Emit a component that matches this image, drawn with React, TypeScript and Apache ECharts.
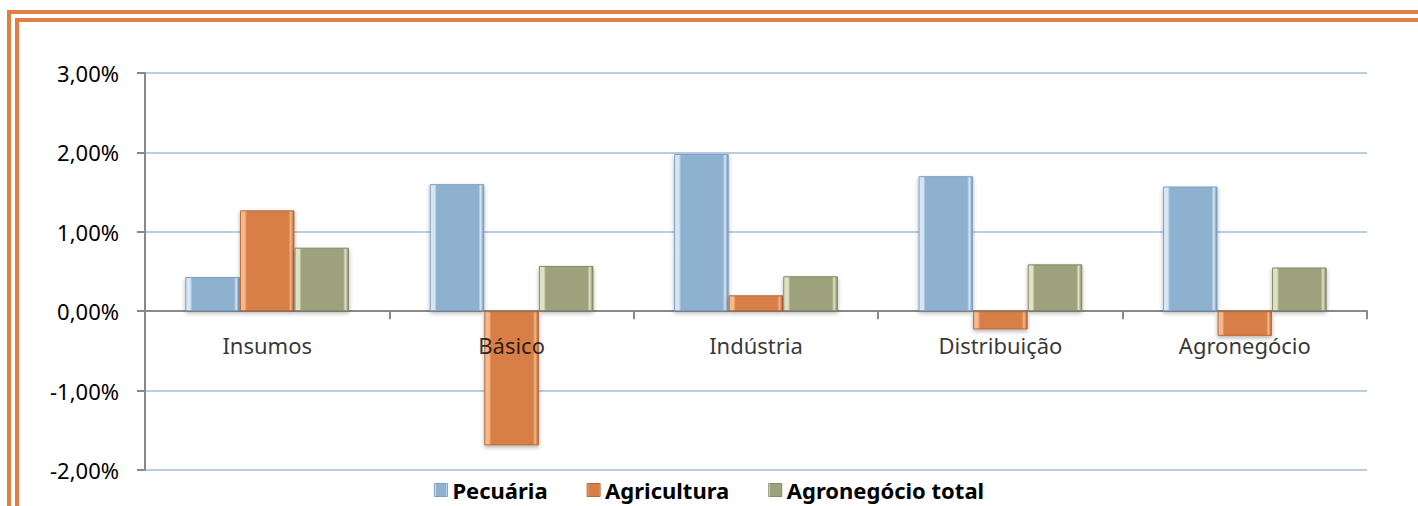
import React, { useEffect, useRef } from "react";
import * as echarts from "echarts";

const categories = ["Insumos", "Básico", "Indústria", "Distribuição", "Agronegócio"];
const pecuaria = [0.43, 1.6, 1.98, 1.7, 1.57];
const agricultura = [1.27, -1.69, 0.2, -0.23, -0.31];
const agronegocioTotal = [0.8, 0.57, 0.44, 0.59, 0.55];
const seriesNames = ["Pecuária", "Agricultura", "Agronegócio total"];
const yTicks = { min: -2, max: 3, interval: 1 };

const palettes = [
  { light: "#d6e6f5", main: "#8eb1d0", dark: "#6f8fae", border: "#7f9fbf" },
  { light: "#f7b88a", main: "#d87f47", dark: "#b3622f", border: "#b8693a" },
  { light: "#dfe3c4", main: "#9da27c", dark: "#7f8560", border: "#84896a" },
];

function grad(p: { light: string; main: string; dark: string }) {
  return new echarts.graphic.LinearGradient(0, 0, 1, 0, [
    { offset: 0, color: p.light },
    { offset: 0.08, color: p.light },
    { offset: 0.12, color: p.main },
    { offset: 0.9, color: p.main },
    { offset: 0.94, color: p.light },
    { offset: 1, color: p.dark },
  ]);
}

export default function App() {
  const ref = useRef<HTMLDivElement>(null);
  useEffect(() => {
    if (!ref.current) return;
    const chart = echarts.init(ref.current, null, { renderer: "svg" });
    const font = "'Noto Sans', sans-serif";
    const data = [pecuaria, agricultura, agronegocioTotal];
    chart.setOption({
      animation: false,
      backgroundColor: "#ffffff",
      textStyle: { fontFamily: font },
      grid: { left: 145, right: 51, top: 73, bottom: 36, containLabel: false, outerBoundsMode: "none" },
      graphic: [
        {
          type: "rect",
          shape: { x: 9, y: 12, width: 1500, height: 600 },
          style: { fill: "none", stroke: "#e07f45", lineWidth: 4 },
          silent: true,
        },
        {
          type: "rect",
          shape: { x: 17, y: 20, width: 1500, height: 600 },
          style: { fill: "none", stroke: "#e07f45", lineWidth: 4 },
          silent: true,
        },
      ],
      legend: {
        data: seriesNames.map((n, i) => ({
          name: n,
          icon: "rect",
          itemStyle: { color: grad(palettes[i]), borderColor: palettes[i].border, borderWidth: 1 },
        })),
        top: 477,
        left: "center",
        itemWidth: 13,
        itemHeight: 13,
        itemGap: 39,
        padding: [2, 5, 0, 5],
        textStyle: { fontFamily: font, fontSize: 22, fontWeight: "bold", color: "#000" },
      },
      xAxis: {
        type: "category",
        data: categories,
        axisLine: { onZero: true, lineStyle: { color: "#898989", width: 2 } },
        axisTick: { show: true, length: 8, lineStyle: { color: "#898989", width: 2 } },
        axisLabel: { show: false },
        splitLine: { show: false },
      },
      yAxis: {
        type: "value",
        min: yTicks.min,
        max: yTicks.max,
        interval: yTicks.interval,
        axisLine: { show: true, lineStyle: { color: "#898989", width: 2 } },
        axisTick: { show: true, length: 8, lineStyle: { color: "#898989", width: 2 } },
        axisLabel: {
          margin: 26,
          fontSize: 22,
          color: "#000",
          fontFamily: font,
          formatter: (v: number) => v.toFixed(2).replace(".", ",") + "%",
        },
        splitLine: { show: true, lineStyle: { color: "#b9cde5", width: 2 } },
      },
      series: [
        ...seriesNames.map((n, i) => ({
          name: n,
          type: "bar",
          data: data[i],
          barGap: "0%",
          barCategoryGap: "33%",
          z: 2,
          itemStyle: {
            color: grad(palettes[i]),
            borderColor: palettes[i].border,
            borderWidth: 1,
            shadowColor: "rgba(0,0,0,0.3)",
            shadowBlur: 4,
            shadowOffsetY: 2,
          },
        })),
        {
          name: "categoryLabels",
          type: "scatter",
          symbolSize: 0,
          silent: true,
          z: 5,
          data: categories.map((c) => [c, 0]),
          label: {
            show: true,
            position: "bottom",
            distance: 23,
            formatter: (p: any) => p.value[0],
            fontFamily: font,
            fontSize: 22,
            color: "#000",
          },
        },
      ],
    });
    return () => chart.dispose();
  }, []);
  return (
    <div
      ref={ref}
      style={{ position: "fixed", left: 0, top: 0, width: 1418, height: 506 }}
    />
  );
}
